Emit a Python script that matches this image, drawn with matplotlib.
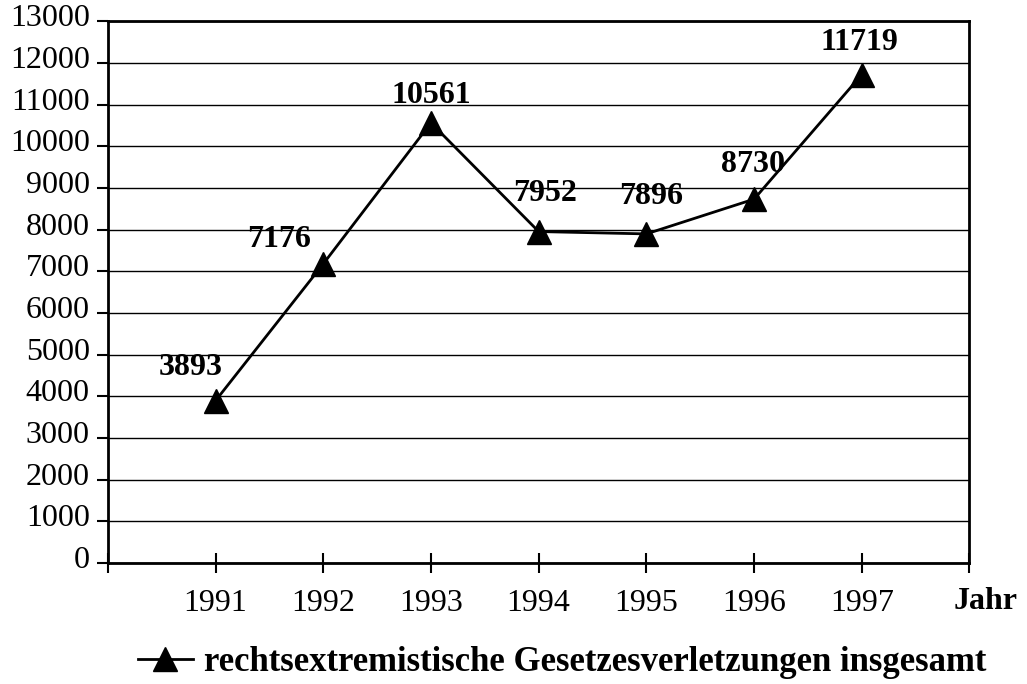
import matplotlib
matplotlib.use("Agg")
import matplotlib.pyplot as plt
import matplotlib.transforms as mtransforms

years = ["1991", "1992", "1993", "1994", "1995", "1996", "1997"]
werte = [3893, 7176, 10561, 7952, 7896, 8730, 11719]
# label offsets in pixels relative to the point
offsets = [(-25, 33), (-44, 24), (0, 27), (6, 38), (5, 37), (-1, 35), (-2, 32)]
yticks = list(range(0, 13001, 1000))
legende = "rechtsextremistische Gesetzesverletzungen insgesamt"

plt.rcParams["font.family"] = ["Liberation Serif", "DejaVu Serif"]

fig = plt.figure(figsize=(10.27, 6.84), dpi=100)
ax = fig.add_axes([0.105, 0.177, 0.839, 0.792])

x = list(range(1, len(years) + 1))
ax.plot(x, werte, color="k", lw=2, marker="^", markersize=17, zorder=3)
for xi, v, (dx, dy) in zip(x, werte, offsets):
    ax.annotate(str(v), (xi, v), xytext=(dx, dy), textcoords="offset pixels",
                ha="center", va="center", fontsize=23, fontweight="bold")

ax.set_xlim(0, len(years) + 1)
ax.set_ylim(0, 13000)
ax.set_yticks(yticks)
ax.set_yticklabels([str(t) for t in yticks], fontsize=23)
ax.yaxis.grid(True, color="k", lw=1)
ax.set_axisbelow(True)

ax.set_xticks([0] + x + [len(years) + 1])
ax.set_xticklabels([""] + years + [""], fontsize=23)
ax.tick_params(axis="x", direction="inout", length=14, width=1.5, pad=12)
ax.tick_params(axis="y", direction="out", length=8, width=1.5, pad=5)
for s in ax.spines.values():
    s.set_linewidth(2)

# y labels sit a bit above their ticks in the original
off = mtransforms.ScaledTranslation(0, 6 / 100, fig.dpi_scale_trans)
for lab in ax.get_yticklabels():
    lab.set_transform(lab.get_transform() + off)

fig.text(0.96, 0.121, "Jahr", fontsize=23, fontweight="bold", ha="center", va="center")

h, = ax.plot([], [], color="k", lw=2, marker="^", markersize=17)
fig.legend([h], [legende], loc="center", bbox_to_anchor=(0.547, 0.031), frameon=False,
           prop={"size": 25, "weight": "bold"}, handlelength=1.6, handletextpad=0.3)

fig.savefig("out.png", dpi=100)
